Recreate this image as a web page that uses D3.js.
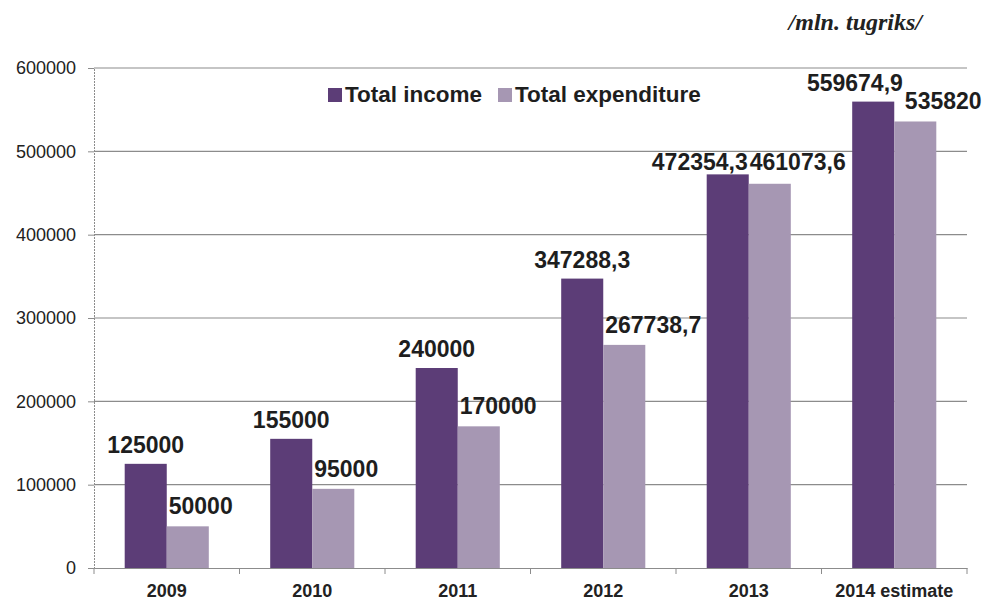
<!DOCTYPE html>
<html>
<head>
<meta charset="utf-8">
<script src="https://cdn.jsdelivr.net/npm/d3@7"></script>
<style>
  body { margin: 0; background: #fff; }
  svg { display: block; font-family: Arial, "Liberation Sans", sans-serif; }
</style>
</head>
<body>
<div id="chart"></div>
<script>
// values (mln. tugriks)
const years = ["2009", "2010", "2011", "2012", "2013", "2014 estimate"];
const income = [125000, 155000, 240000, 347288.3, 472354.3, 559674.9];
const expenditure = [50000, 95000, 170000, 267738.7, 461073.6, 535820];
const incomeLabels = ["125000", "155000", "240000", "347288,3", "472354,3", "559674,9"];
const expLabels = ["50000", "95000", "170000", "267738,7", "461073,6", "535820"];
const yTicks = [0, 100000, 200000, 300000, 400000, 500000, 600000];

const seriesNames = ["Total income", "Total expenditure"];
const colors = {"Total income": "#5c3d77", "Total expenditure": "#a697b3"};

const width = 983, height = 600;
const margin = {top: 68, right: 16, bottom: 32, left: 94};

const svg = d3.select("#chart")
    .append("svg")
        .attr("width", width)
        .attr("height", height);

const x0 = d3.scaleBand()
    .domain(years)
    .range([margin.left, width - margin.right])
    .padding(0);

const x1 = d3.scaleBand()
    .domain(seriesNames)
    .range([0, x0.bandwidth()])
    .paddingInner(0)
    .paddingOuter(0.73);

const y = d3.scaleLinear()
    .domain([0, 600000])
    .range([height - margin.bottom, margin.top]);

// horizontal gridlines
svg.append("g")
    .selectAll("line")
    .data(yTicks.slice(1))
    .enter()
        .append("line")
        .attr("x1", margin.left)
        .attr("x2", width - margin.right)
        .attr("y1", (d) => y(d))
        .attr("y2", (d) => y(d))
        .attr("stroke", "#8c8c8c")
        .attr("stroke-width", 1.2);

// y axis
const yAxis = svg.append("g")
    .attr("transform", `translate(${margin.left},0)`)
    .call(d3.axisLeft(y).tickValues(yTicks).tickFormat(d3.format("d")).tickSize(6).tickPadding(12));
yAxis.select(".domain").attr("stroke", "#8c8c8c").attr("stroke-dasharray", "2,1");
yAxis.selectAll(".tick line").attr("stroke", "#8c8c8c");
yAxis.selectAll("text")
    .style("font-size", "18px")
    .style("fill", "#222");

// x axis
const xAxis = svg.append("g")
    .attr("transform", `translate(0,${y(0)})`)
    .call(d3.axisBottom(x0).tickSize(0).tickPadding(16));
xAxis.select(".domain").attr("stroke", "#8c8c8c").attr("stroke-width", 1.2);
xAxis.selectAll("text")
    .style("font-size", "18px")
    .style("font-weight", "bold")
    .style("fill", "#222");
// category separators
svg.append("g")
    .selectAll("line")
    .data(years.concat(["end"]))
    .enter()
        .append("line")
        .attr("x1", (d, i) => i < years.length ? x0(d) : x0.range()[1])
        .attr("x2", (d, i) => i < years.length ? x0(d) : x0.range()[1])
        .attr("y1", y(0))
        .attr("y2", y(0) + 6)
        .attr("stroke", "#8c8c8c");

// bars
const rows = years.map((yr, i) => ({
    year: yr,
    values: [
        {name: "Total income", value: income[i], label: incomeLabels[i]},
        {name: "Total expenditure", value: expenditure[i], label: expLabels[i]}
    ]
}));

const groups = svg.append("g")
    .selectAll("g")
    .data(rows)
    .enter()
        .append("g")
        .attr("transform", (d) => `translate(${x0(d.year)},0)`);

groups.selectAll("rect")
    .data((d) => d.values)
    .enter()
        .append("rect")
        .attr("x", (d) => x1(d.name))
        .attr("width", x1.bandwidth())
        .attr("y", (d) => y(d.value))
        .attr("height", (d) => y(0) - y(d.value))
        .attr("fill", (d) => colors[d.name]);

// value labels: income centered over bar, expenditure starting at bar's left edge
const labelG = svg.append("g")
    .style("font-size", "23px")
    .style("font-weight", "bold")
    .style("fill", "#1e1e1e");

rows.forEach((r) => {
    const bx = x0(r.year);
    const inc = r.values[0], exp = r.values[1];
    const ti = labelG.append("text").text(inc.label).attr("text-anchor", "start");
    const te = labelG.append("text").text(exp.label).attr("text-anchor", "start");
    const wi = ti.node().getComputedTextLength();
    const we = te.node().getComputedTextLength();
    const h = 16;

    let xi = bx + x1(inc.name) + x1.bandwidth() / 2 - wi / 2;
    let yi = y(inc.value) - 11;
    let xe = bx + x1(exp.name) + 2;
    let ye = y(exp.value) - 12;

    // nudge apart when the two labels crowd each other
    const pad = 4;
    const hOverlap = xi + wi + pad > xe;
    const vOverlap = Math.abs(yi - ye) < h + pad;
    if (hOverlap && vOverlap) {
        const center = bx + x1(exp.name);
        const total = wi + we + 2;
        xi = center - total / 2;
        xe = xi + wi + 2;
        if (Math.abs(yi - ye) < h) {
            const base = Math.min(y(inc.value), y(exp.value)) - 4;
            yi = base;
            ye = base;
        }
    }
    ti.attr("x", xi).attr("y", yi);
    te.attr("x", xe).attr("y", ye);
});

// legend
const legend = svg.append("g")
    .attr("transform", "translate(328,88)");
const legendX = [0, 170];
seriesNames.forEach((name, i) => {
    const g = legend.append("g").attr("transform", `translate(${legendX[i]},0)`);
    g.append("rect")
        .attr("width", 14)
        .attr("height", 14)
        .attr("fill", colors[name]);
    g.append("text")
        .attr("x", 17)
        .attr("y", 14)
        .text(name)
        .style("font-size", "22.5px")
        .style("font-weight", "bold")
        .style("fill", "#1e1e1e");
});

// unit note
svg.append("text")
    .attr("x", 922)
    .attr("y", 30)
    .attr("text-anchor", "end")
    .text("/mln. tugriks/")
    .style("font-family", "'Liberation Serif', 'Times New Roman', serif")
    .style("font-style", "italic")
    .style("font-weight", "bold")
    .style("font-size", "24px")
    .style("fill", "#222");
</script>
</body>
</html>
